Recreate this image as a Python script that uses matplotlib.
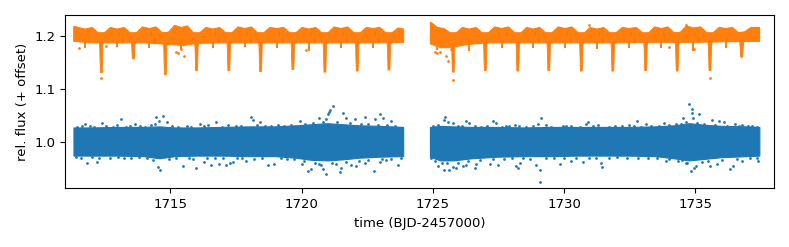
import numpy as np
import matplotlib
matplotlib.use("Agg")
import matplotlib.pyplot as plt

# ---- values (BJD-2457000) ----

# blue: relative flux, dense core envelope per orbit
blue1_t = [1711.33, 1712.0, 1713.0, 1714.0, 1714.6, 1715.2, 1716.0, 1717.0, 1718.0,
           1719.0, 1719.8, 1720.4, 1721.0, 1721.6, 1722.2, 1723.0, 1723.89]
blue1_top = [1.027, 1.027, 1.028, 1.028, 1.029, 1.027, 1.027, 1.028, 1.029,
             1.029, 1.031, 1.033, 1.035, 1.033, 1.031, 1.030, 1.028]
blue1_bot = [0.974, 0.974, 0.974, 0.973, 0.969, 0.973, 0.974, 0.974, 0.973,
             0.973, 0.970, 0.966, 0.965, 0.967, 0.970, 0.972, 0.973]
blue2_t = [1724.91, 1725.3, 1725.8, 1726.5, 1727.5, 1728.5, 1729.5, 1730.5, 1731.5,
           1732.5, 1733.5, 1734.2, 1734.8, 1735.4, 1736.0, 1737.0, 1737.46]
blue2_top = [1.028, 1.030, 1.029, 1.028, 1.028, 1.027, 1.028, 1.028, 1.028,
             1.028, 1.029, 1.031, 1.035, 1.032, 1.030, 1.029, 1.028]
blue2_bot = [0.972, 0.965, 0.965, 0.969, 0.972, 0.973, 0.973, 0.974, 0.974,
             0.974, 0.973, 0.969, 0.965, 0.968, 0.971, 0.973, 0.974]

# blue: points along the ragged edges of the core
blue_edge_t = [1711.45, 1711.62, 1711.95, 1712.10, 1712.55, 1712.80, 1712.95, 1713.30,
               1713.45, 1713.85, 1714.05, 1714.25, 1714.40, 1715.05, 1715.30, 1715.65,
               1715.80, 1716.30, 1716.45, 1716.95, 1717.20, 1717.50, 1717.70, 1718.30,
               1718.60, 1718.85, 1719.10, 1719.35, 1719.60, 1720.15, 1720.45, 1720.80,
               1721.35, 1721.85, 1722.25, 1722.55, 1722.90, 1723.25, 1723.55,
               1711.40, 1711.60, 1712.00, 1712.30, 1712.70, 1713.00, 1713.25, 1713.50,
               1713.80, 1714.10, 1714.35, 1714.95, 1715.20, 1715.70, 1715.85, 1716.40,
               1716.70, 1717.00, 1717.55, 1717.75, 1718.20, 1718.50, 1719.20, 1719.45,
               1719.70, 1720.10, 1720.50, 1720.65, 1721.15, 1721.30, 1721.70, 1722.20,
               1722.55, 1723.05, 1723.40, 1723.80,
               1725.00, 1725.20, 1725.95, 1726.10, 1726.60, 1726.85, 1727.05, 1727.65,
               1727.80, 1728.30, 1728.55, 1728.80, 1729.30, 1729.50, 1729.95, 1730.25,
               1730.60, 1731.10, 1731.30, 1731.70, 1731.95, 1732.20, 1732.65, 1732.95,
               1733.30, 1733.60, 1734.00, 1734.25, 1734.65, 1735.05, 1735.35, 1735.75,
               1736.20, 1736.65, 1737.00, 1737.35,
               1724.95, 1725.10, 1725.35, 1725.55, 1725.95, 1726.35, 1726.80, 1727.30,
               1727.70, 1728.00, 1728.45, 1728.70, 1729.30, 1729.60, 1730.00, 1730.45,
               1730.95, 1731.20, 1731.70, 1732.00, 1732.40, 1732.80, 1733.20, 1733.55,
               1734.00, 1734.35, 1734.70, 1735.25, 1735.50, 1736.00, 1736.60, 1737.10,
               1737.35]
blue_edge_f = [1.029, 1.031, 1.030, 1.028, 1.031, 1.029, 1.032, 1.029,
               1.031, 1.030, 1.029, 1.032, 1.034, 1.031, 1.029, 1.031,
               1.029, 1.030, 1.032, 1.029, 1.032, 1.030, 1.031, 1.032,
               1.030, 1.031, 1.033, 1.030, 1.032, 1.035, 1.037, 1.038,
               1.039, 1.036, 1.035, 1.034, 1.033, 1.032, 1.031,
               0.972, 0.971, 0.972, 0.970, 0.971, 0.972, 0.970, 0.971,
               0.972, 0.970, 0.967, 0.968, 0.970, 0.971, 0.969, 0.971,
               0.970, 0.971, 0.970, 0.971, 0.969, 0.970, 0.970, 0.969,
               0.968, 0.964, 0.962, 0.960, 0.962, 0.960, 0.963, 0.965,
               0.967, 0.968, 0.969, 0.970,
               1.031, 1.033, 1.031, 1.030, 1.030, 1.029, 1.031, 1.029,
               1.030, 1.031, 1.029, 1.030, 1.032, 1.029, 1.030, 1.031,
               1.029, 1.030, 1.032, 1.029, 1.031, 1.030, 1.031, 1.029,
               1.031, 1.030, 1.033, 1.034, 1.038, 1.037, 1.035, 1.032,
               1.031, 1.030, 1.031, 1.029,
               0.970, 0.964, 0.962, 0.961, 0.962, 0.964, 0.967, 0.969,
               0.969, 0.970, 0.970, 0.969, 0.971, 0.970, 0.971, 0.970,
               0.971, 0.970, 0.971, 0.972, 0.970, 0.971, 0.970, 0.971,
               0.968, 0.965, 0.962, 0.963, 0.965, 0.967, 0.969, 0.970,
               0.971]

# blue: isolated outliers
blue_pts_t = [1713.11, 1714.47, 1714.58, 1714.74, 1713.64, 1716.75, 1711.74, 1712.39,
              1716.12, 1714.89, 1711.84, 1712.19, 1714.62, 1714.53, 1715.48, 1715.99,
              1716.28, 1716.56, 1716.86, 1717.11, 1717.28, 1717.38,
              1718.08, 1718.15, 1718.43, 1719.93, 1720.65, 1721.01, 1721.09, 1721.20,
              1721.04, 1720.92, 1721.58, 1721.68, 1722.02, 1722.40, 1722.78, 1723.00,
              1723.10, 1723.42, 1723.74,
              1717.87, 1718.72, 1718.95, 1720.01, 1720.24, 1720.37, 1720.82, 1720.92,
              1720.75, 1721.45, 1721.51, 1721.89, 1722.08, 1722.40, 1722.75, 1722.97,
              1723.23, 1723.67,
              1725.45, 1725.41, 1725.58, 1725.77, 1726.28, 1726.38, 1727.29, 1727.40,
              1727.90, 1728.12, 1729.14, 1729.01, 1729.71, 1730.09, 1730.85, 1730.91,
              1724.94, 1725.20, 1725.41, 1725.62, 1725.77, 1725.87, 1726.15, 1726.28,
              1726.60, 1726.66, 1727.17, 1727.48, 1728.18, 1728.26, 1728.31, 1728.95,
              1729.07, 1729.07, 1729.83, 1730.28, 1730.72,
              1732.79, 1732.47, 1733.11, 1733.80, 1734.44, 1734.53, 1734.76, 1734.86,
              1734.88, 1734.91, 1735.14, 1735.64, 1735.90, 1736.09, 1736.53, 1736.79,
              1737.17, 1737.27,
              1731.39, 1731.45, 1733.87, 1734.63, 1734.82, 1734.95, 1735.01, 1735.58,
              1735.84, 1736.31, 1736.44, 1736.79, 1737.40, 1734.50]
blue_pts_f = [1.0432, 1.0482, 1.0406, 1.0501, 1.0344, 1.0376, 1.0338, 1.0369,
              1.0338, 1.0388, 0.9611, 0.9623, 0.9473, 0.9542, 0.9561, 0.9511,
              0.9636, 0.9574, 0.9586, 0.9567, 0.9611, 0.9636,
              1.0469, 1.0419, 1.0388, 1.0406, 1.0463, 1.0526, 1.0607, 1.0682,
              1.0576, 1.0438, 1.0545, 1.0451, 1.0438, 1.0482, 1.0438, 1.0526,
              1.0451, 1.0400, 1.0262,
              0.9648, 0.9567, 0.9586, 0.9586, 0.9461, 0.9499, 0.9499, 0.9398,
              0.9574, 0.9436, 0.9524, 0.9574, 0.9561, 0.9605, 0.9461, 0.9636,
              0.9668, 0.9574,
              1.0469, 1.0419, 1.0376, 1.0357, 1.0400, 1.0357, 1.0400, 1.0369,
              1.0313, 1.0325, 1.0451, 1.0338, 1.0275, 1.0313, 1.0338, 1.0376,
              0.9749, 0.9555, 0.9486, 0.9480, 0.9542, 0.9524, 0.9561, 0.9574,
              0.9511, 0.9586, 0.9599, 0.9574, 0.9561, 0.9524, 0.9605, 0.9574,
              0.9480, 0.9261, 0.9586, 0.9648, 0.9636,
              1.0400, 1.0325, 1.0338, 1.0357, 1.0338, 1.0451, 1.0720, 1.0620,
              1.0545, 1.0463, 1.0526, 1.0419, 1.0400, 1.0388, 1.0338, 1.0325,
              1.0313, 1.0262,
              0.9605, 0.9542, 0.9648, 0.9605, 0.9461, 0.9524, 0.9561, 0.9561,
              0.9586, 0.9499, 0.9561, 0.9648, 0.9648, 0.9668]

# orange: flux + 0.2 offset, upper edge of the band (arches between eclipses)
orange1_top_t = [1711.32, 1711.76, 1712.02, 1712.25, 1712.49, 1712.72, 1712.98, 1713.24,
                 1713.47, 1713.71, 1713.94, 1714.20, 1714.46, 1714.69, 1714.93, 1715.16,
                 1715.41, 1715.65, 1715.88, 1716.12, 1716.36, 1716.62, 1716.88, 1717.11,
                 1717.35, 1717.58, 1717.84, 1718.09, 1718.32, 1718.56, 1718.80, 1719.06,
                 1719.32, 1719.55, 1719.79, 1720.02, 1720.28, 1720.54, 1720.77, 1721.01,
                 1721.24, 1721.50, 1721.76, 1722.00, 1722.24, 1722.47, 1722.72, 1722.98,
                 1723.21, 1723.45, 1723.68, 1723.89]
orange1_top = [1.218, 1.213, 1.216, 1.206, 1.206, 1.216, 1.213, 1.216,
               1.206, 1.206, 1.217, 1.214, 1.217, 1.206, 1.207, 1.220,
               1.216, 1.219, 1.206, 1.206, 1.216, 1.213, 1.216, 1.206,
               1.206, 1.217, 1.214, 1.217, 1.206, 1.206, 1.216, 1.214,
               1.216, 1.206, 1.206, 1.216, 1.213, 1.216, 1.206, 1.206,
               1.217, 1.214, 1.217, 1.206, 1.206, 1.216, 1.214, 1.216,
               1.206, 1.206, 1.215, 1.213]
orange1_bot_t = [1711.32, 1712.0, 1713.0, 1714.0, 1715.0, 1715.5, 1716.0, 1717.0,
                 1718.0, 1719.0, 1720.0, 1721.0, 1722.0, 1723.0, 1723.89]
orange1_bot = [1.190, 1.187, 1.187, 1.187, 1.184, 1.182, 1.186, 1.187,
               1.187, 1.187, 1.187, 1.187, 1.187, 1.187, 1.188]

orange2_top_t = [1724.91, 1725.05, 1725.17, 1725.43, 1725.66, 1725.90, 1726.13, 1726.39,
                 1726.65, 1726.88, 1727.12, 1727.36, 1727.62, 1727.88, 1728.12, 1728.36,
                 1728.58, 1728.83, 1729.07, 1729.30, 1729.54, 1729.78, 1730.04, 1730.30,
                 1730.54, 1730.78, 1731.00, 1731.26, 1731.51, 1731.74, 1731.98, 1732.22,
                 1732.48, 1732.75, 1732.99, 1733.23, 1733.45, 1733.71, 1733.96, 1734.19,
                 1734.43, 1734.67, 1734.93, 1735.20, 1735.44, 1735.68, 1735.91, 1736.16,
                 1736.41, 1736.65, 1736.89, 1737.12, 1737.45]
orange2_top = [1.226, 1.221, 1.216, 1.214, 1.206, 1.206, 1.216, 1.213,
               1.216, 1.206, 1.206, 1.217, 1.214, 1.217, 1.206, 1.206,
               1.216, 1.213, 1.216, 1.206, 1.206, 1.217, 1.214, 1.217,
               1.206, 1.206, 1.216, 1.213, 1.216, 1.206, 1.206, 1.216,
               1.214, 1.216, 1.206, 1.206, 1.217, 1.214, 1.217, 1.206,
               1.207, 1.219, 1.215, 1.217, 1.206, 1.206, 1.216, 1.214,
               1.216, 1.206, 1.208, 1.216, 1.216]
orange2_bot_t = [1724.91, 1725.3, 1725.7, 1726.2, 1727.0, 1728.0, 1729.0, 1730.0,
                 1731.0, 1732.0, 1733.0, 1734.0, 1735.0, 1736.0, 1737.45]
orange2_bot = [1.185, 1.178, 1.178, 1.183, 1.187, 1.187, 1.187, 1.187,
               1.187, 1.187, 1.188, 1.188, 1.188, 1.189, 1.190]

# primary eclipses: mid-times and depth of the dense column
ecl_t = [1712.37, 1713.59, 1714.81, 1716.00, 1717.23, 1718.44, 1719.67, 1720.89, 1722.12, 1723.33,
         1725.78, 1727.00, 1728.24, 1729.42, 1730.66, 1731.86, 1733.11, 1734.31, 1735.56, 1736.77]
ecl_depth = [1.129, 1.155, 1.125, 1.133, 1.133, 1.131, 1.135, 1.130, 1.132, 1.134,
             1.130, 1.133, 1.132, 1.133, 1.132, 1.132, 1.133, 1.132, 1.133, 1.158]

# secondary eclipses (shallow)
sec_t = [1711.76, 1712.98, 1714.20, 1715.41, 1716.62, 1717.84, 1719.06, 1720.28, 1721.50, 1722.72,
         1725.17, 1726.39, 1727.62, 1728.83, 1730.04, 1731.26, 1732.48, 1733.71, 1734.93, 1736.16]
sec_depth = [1.178, 1.179, 1.178, 1.176, 1.178, 1.179, 1.178, 1.172, 1.178, 1.178,
             1.174, 1.172, 1.178, 1.178, 1.178, 1.176, 1.177, 1.178, 1.172, 1.178]

# orange: isolated points
orange_pts_t = [1711.51, 1712.56, 1715.23, 1715.29, 1715.54, 1715.42, 1720.18,
                1725.07, 1725.16, 1725.26, 1725.51, 1725.58, 1725.70, 1730.95,
                1734.66, 1733.99, 1734.94, 1712.37, 1725.78, 1735.56]
orange_pts_f = [1.1767, 1.1810, 1.1704, 1.1673, 1.1623, 1.1748, 1.1736,
                1.1704, 1.1673, 1.1704, 1.1629, 1.1529, 1.1748, 1.2205,
                1.2205, 1.1797, 1.1748, 1.1216, 1.1172, 1.1216]

BLUE = "#1f77b4"
ORANGE = "#ff7f0e"


def band(ax, t_top, top, t_bot, bot, color):
    """Dense part of a light curve drawn as one polygon."""
    xs = list(t_top) + list(t_bot)[::-1]
    ys = list(top) + list(bot)[::-1]
    ax.fill(xs, ys, color=color, lw=0.8, ec=color, zorder=2)


def dips(ax, times, depths, top, half_top, half_bot, color):
    """Eclipse columns: narrow towards the bottom."""
    for t, d in zip(times, depths):
        xs = [t - half_top, t - half_bot, t - half_bot * 0.6, t + half_bot * 0.6,
              t + half_bot, t + half_top]
        ys = [top, top - 0.025, d + 0.002, d + 0.002, top - 0.025, top]
        ax.fill(xs, ys, color=color, lw=0.6, ec=color, zorder=3)


fig = plt.figure(figsize=(7.89, 2.47), dpi=100)
ax = fig.add_axes([0.0828, 0.2377, 0.8982, 0.7028])

# blue light curve
band(ax, blue1_t, blue1_top, blue1_t, blue1_bot, BLUE)
band(ax, blue2_t, blue2_top, blue2_t, blue2_bot, BLUE)
ax.plot(blue_edge_t, blue_edge_f, "o", color=BLUE, ms=2.0, mew=0, zorder=2)
ax.plot(blue_pts_t, blue_pts_f, "o", color=BLUE, ms=2.0, mew=0, zorder=2)

# orange light curve
band(ax, orange1_top_t, orange1_top, orange1_bot_t, orange1_bot, ORANGE)
band(ax, orange2_top_t, orange2_top, orange2_bot_t, orange2_bot, ORANGE)
dips(ax, ecl_t, ecl_depth, 1.205, 0.12, 0.06, ORANGE)
ax.vlines(sec_t, sec_depth, 1.19, color=ORANGE, lw=1.4, zorder=3)
ax.plot(orange_pts_t, orange_pts_f, "o", color=ORANGE, ms=2.0, mew=0, zorder=3)

ax.set_xlim(1711, 1738)
ax.set_ylim(0.9135, 1.240)
ax.set_xticks([1715, 1720, 1725, 1730, 1735])
ax.set_yticks([1.0, 1.1, 1.2])
ax.tick_params(labelsize=9.5)
ax.set_xlabel("time (BJD-2457000)", fontsize=9.5)
ax.set_ylabel("rel. flux (+ offset)", fontsize=9.5)

fig.savefig("out.png", dpi=100)
